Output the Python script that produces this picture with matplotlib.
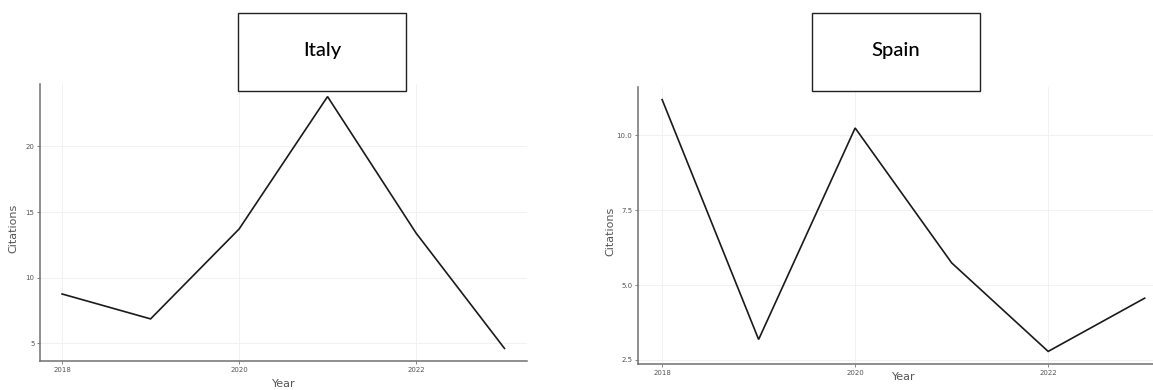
import matplotlib
matplotlib.use("Agg")
import matplotlib.pyplot as plt
from matplotlib.patches import Rectangle

years = [2018, 2019, 2020, 2021, 2022, 2023]
italy_citations = [8.75, 6.85, 13.7, 23.8, 13.4, 4.6]
spain_citations = [11.2, 3.18, 10.25, 5.74, 2.78, 4.56]

italy_yticks = [5, 10, 15, 20]
italy_yticklabels = ["5", "10", "15", "20"]
spain_yticks = [2.5, 5.0, 7.5, 10.0]
spain_yticklabels = ["2.5", "5.0", "7.5", "10.0"]
xticks = [2018, 2020, 2022]
xticklabels = ["2018", "2020", "2022"]

titles = ["Italy", "Spain"]
xlabel = "Year"
ylabel = "Citations"

W, H = 1153, 390
fig = plt.figure(figsize=(W / 100, H / 100), dpi=100)
fig.patch.set_facecolor("white")


def px_rect(x0, y0, x1, y1):
    return [x0 / W, 1 - y1 / H, (x1 - x0) / W, (y1 - y0) / H]


def style_axes(ax, y, yticks, yticklabels):
    ax.plot(years, y, color="#1a1a1a", linewidth=1.2, solid_joinstyle="miter")
    rng = max(y) - min(y)
    ax.set_ylim(min(y) - 0.05 * rng, max(y) + 0.05 * rng)
    ax.set_xlim(2017.75, 2023.25)
    ax.set_xticks(xticks)
    ax.set_xticklabels(xticklabels)
    ax.set_yticks(yticks)
    ax.set_yticklabels(yticklabels)
    for s in ["top", "right"]:
        ax.spines[s].set_visible(False)
    for s in ["left", "bottom"]:
        ax.spines[s].set_color("#707070")
        ax.spines[s].set_linewidth(1.1)
    ax.tick_params(axis="both", length=2, width=0.6, color="#707070",
                   labelsize=5, labelcolor="#555555", pad=2)
    ax.grid(True, color="#efefef", linewidth=0.6)
    ax.set_axisbelow(True)
    ax.set_xlabel(xlabel, fontsize=8, color="#555555")
    ax.set_ylabel(ylabel, fontsize=8, color="#555555")


ax1 = fig.add_axes(px_rect(40, 84, 526.6, 361))
style_axes(ax1, italy_citations, italy_yticks, italy_yticklabels)
ax1.yaxis.set_label_coords(-0.044, 0.48)
ax1.xaxis.set_label_coords(0.5, -0.065)

ax2 = fig.add_axes(px_rect(638, 87, 1168.8, 364))
style_axes(ax2, spain_citations, spain_yticks, spain_yticklabels)
ax2.yaxis.set_label_coords(-0.042, 0.48)
ax2.xaxis.set_label_coords(0.5, -0.03)

boxes = [(238, 13, 406, 91), (812, 13, 980, 91)]
for (x0, y0, x1, y1), t in zip(boxes, titles):
    r = px_rect(x0, y0, x1, y1)
    fig.patches.append(Rectangle((r[0], r[1]), r[2], r[3], transform=fig.transFigure,
                                 facecolor="white", edgecolor="#222222", linewidth=1.0))
    fig.text(r[0] + r[2] / 2, r[1] + r[3] / 2 + 0.005, t, ha="center", va="center",
             fontsize=14.5, family=["Lato", "DejaVu Sans"], fontweight="medium",
             color="#000000")

fig.savefig("out.png", dpi=100)
